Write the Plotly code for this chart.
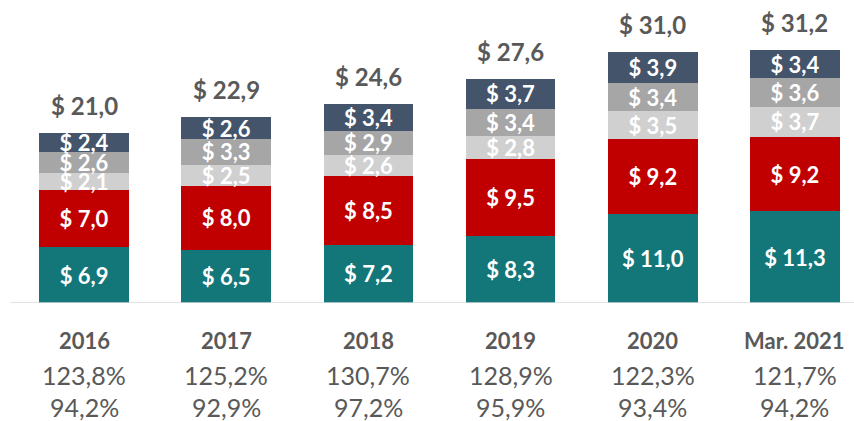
import plotly.graph_objects as go

# data
years = ["2016", "2017", "2018", "2019", "2020", "Mar. 2021"]
teal_vals = [6.9, 6.5, 7.2, 8.3, 11.0, 11.3]
red_vals = [7.0, 8.0, 8.5, 9.5, 9.2, 9.2]
light_vals = [2.1, 2.5, 2.6, 2.8, 3.5, 3.7]
grey_vals = [2.6, 3.3, 2.9, 3.4, 3.4, 3.6]
navy_vals = [2.4, 2.6, 3.4, 3.7, 3.9, 3.4]
totals = [21.0, 22.9, 24.6, 27.6, 31.0, 31.2]
ratio_a = ["123,8%", "125,2%", "130,7%", "128,9%", "122,3%", "121,7%"]
ratio_b = ["94,2%", "92,9%", "97,2%", "95,9%", "93,4%", "94,2%"]

FONT = "Lato"
DARK = "#595959"


def fmt(v):
    return "$ " + f"{v:.1f}".replace(".", ",")


xs = list(range(len(years)))
series = [
    (teal_vals, "#137679"),
    (red_vals, "#C00000"),
    (light_vals, "#D0D0D0"),
    (grey_vals, "#A6A6A6"),
    (navy_vals, "#44546A"),
]

fig = go.Figure()
for vals, color in series:
    fig.add_trace(go.Bar(
        x=xs, y=vals, width=0.63,
        marker=dict(color=color, line=dict(width=0)),
        text=[fmt(v) for v in vals],
        textposition="inside",
        insidetextanchor="middle",
        constraintext="none",
        textangle=0,
        textfont=dict(color="white", size=22, family=FONT, weight="bold"),
        showlegend=False,
        hoverinfo="skip",
    ))

# totals above the bars
for x, t in zip(xs, totals):
    fig.add_annotation(x=x, y=t, text=f"<b>{fmt(t)}</b>", showarrow=False,
                       yanchor="bottom", yshift=11,
                       font=dict(size=24, color=DARK, family=FONT))

# category labels and ratios under the axis
for x, yr, a, b in zip(xs, years, ratio_a, ratio_b):
    fig.add_annotation(x=x, y=0, text=f"<b>{yr}</b>", showarrow=False,
                       yanchor="middle", yshift=-37,
                       font=dict(size=22, color=DARK, family=FONT))
    fig.add_annotation(x=x, y=0, text=a, showarrow=False,
                       yanchor="middle", yshift=-72,
                       font=dict(size=25, color=DARK, family=FONT))
    fig.add_annotation(x=x, y=0, text=b, showarrow=False,
                       yanchor="middle", yshift=-104,
                       font=dict(size=25, color=DARK, family=FONT))

fig.add_shape(type="line", xref="paper", yref="y", x0=0.012, x1=1, y0=0, y1=0,
              line=dict(color="#D9D9D9", width=1.5))

fig.update_layout(
    barmode="stack",
    width=854, height=421,
    margin=dict(l=0, r=0, t=0, b=118),
    plot_bgcolor="white", paper_bgcolor="white",
    xaxis=dict(range=[-0.591, 5.415], visible=False, fixedrange=True),
    yaxis=dict(range=[0, 37.4], visible=False, fixedrange=True),
)

fig.write_html("out.html", config={"displayModeBar": False},
               post_script="document.body.style.margin='0';")
